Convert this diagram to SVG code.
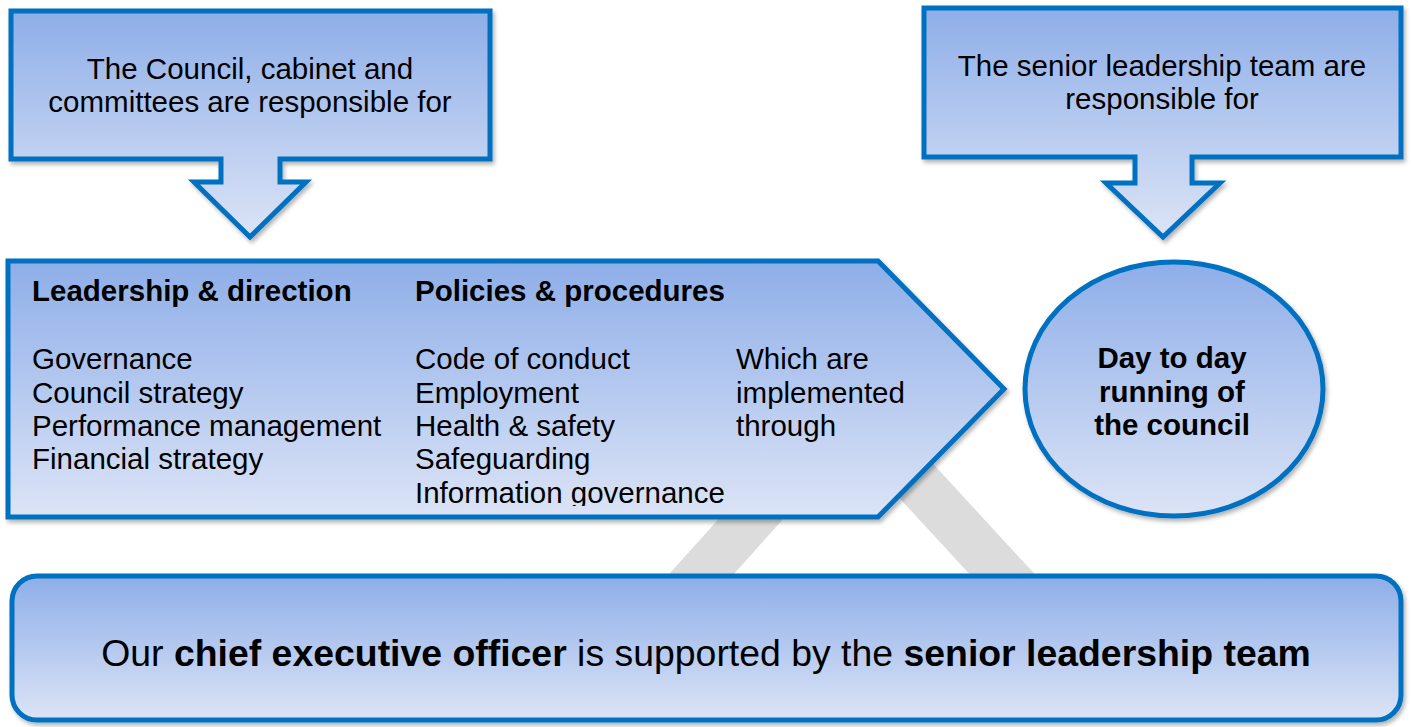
<svg xmlns="http://www.w3.org/2000/svg" width="1412" height="727" viewBox="0 0 1412 727">
  <defs>
    <linearGradient id="fill" x1="0" y1="0" x2="0" y2="1">
      <stop offset="0" stop-color="#8eaee8"/>
      <stop offset="1" stop-color="#dce4f6"/>
    </linearGradient>
    <filter id="shadow" x="-5%" y="-5%" width="110%" height="115%">
      <feDropShadow dx="2" dy="3" stdDeviation="2" flood-color="#000" flood-opacity="0.3"/>
    </filter>
    <clipPath id="textclip">
      <rect x="0" y="250" width="1000" height="256"/>
    </clipPath>
    <style>
      .shape { fill: url(#fill); stroke: #0070c0; stroke-width: 5; stroke-linejoin: miter; filter: url(#shadow); }
      .t { font-family: "Liberation Sans", Arial, sans-serif; font-size: 29.5px; fill: #000; }
      .b { font-weight: bold; }
      .c { text-anchor: middle; }
    </style>
  </defs>

  <rect width="1412" height="727" fill="#ffffff"/>

  <g id="connectors">
    <polyline points="588,700 850,409 1118,700" fill="none" stroke="#dcdcdc" stroke-width="48" stroke-linejoin="miter"/>
  </g>

  <g id="council-callout">
    <path class="shape" d="M11,11 H490 V159 H280 V182 H306 L250,237 L194,182 H221 V159 H11 Z"/>
    <text class="t c" x="250" y="79">The Council, cabinet and</text>
    <text class="t c" x="250" y="112">committees are responsible for</text>
  </g>

  <g id="slt-callout">
    <path class="shape" d="M924,8 H1401 V157 H1192 V183 H1220 L1163,237 L1106,183 H1135 V157 H924 Z"/>
    <text class="t c" x="1162" y="76">The senior leadership team are</text>
    <text class="t c" x="1162" y="109">responsible for</text>
  </g>

  <g id="policies-arrow">
    <path class="shape" d="M8,261 H878 L1004,389 L878,517 H8 Z"/>
    <g clip-path="url(#textclip)">
      <text class="t b" x="32" y="301">Leadership &amp; direction</text>
      <text class="t" x="32" y="369">Governance</text>
      <text class="t" x="32" y="403">Council strategy</text>
      <text class="t" x="32" y="436">Performance management</text>
      <text class="t" x="32" y="469">Financial strategy</text>
      <text class="t b" x="415" y="301">Policies &amp; procedures</text>
      <text class="t" x="415" y="369">Code of conduct</text>
      <text class="t" x="415" y="403">Employment</text>
      <text class="t" x="415" y="436">Health &amp; safety</text>
      <text class="t" x="415" y="469">Safeguarding</text>
      <text class="t" x="415" y="503">Information governance</text>
      <text class="t" x="736" y="369">Which are</text>
      <text class="t" x="736" y="403">implemented</text>
      <text class="t" x="736" y="436">through</text>
    </g>
  </g>

  <g id="day-to-day">
    <ellipse class="shape" cx="1174" cy="389" rx="149" ry="127"/>
    <text class="t b c" x="1172" y="368">Day to day</text>
    <text class="t b c" x="1172" y="402">running of</text>
    <text class="t b c" x="1172" y="435">the council</text>
  </g>

  <g id="ceo-box">
    <rect class="shape" x="12" y="576" width="1389" height="144" rx="25" ry="25"/>
    <text class="t c" x="706" y="666" style="font-size:37.4px">Our <tspan class="b">chief executive officer</tspan> is supported by the <tspan class="b">senior leadership team</tspan></text>
  </g>
</svg>
